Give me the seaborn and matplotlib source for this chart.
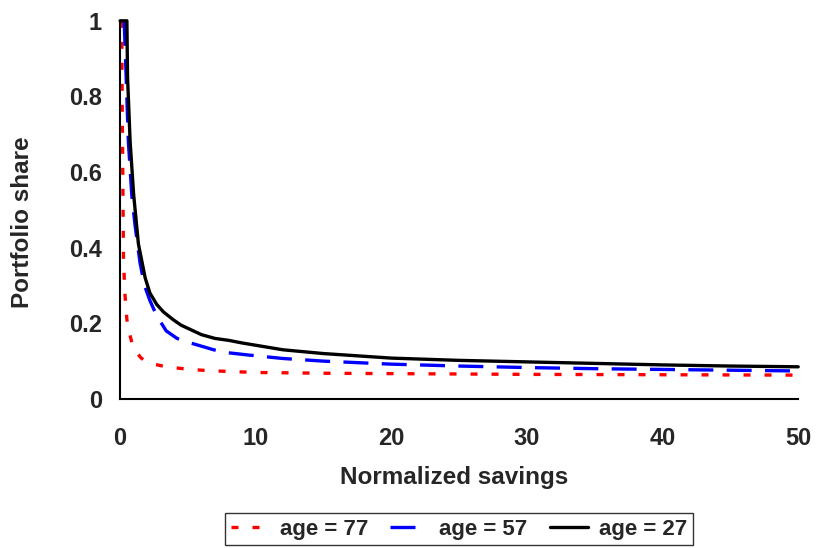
import matplotlib
matplotlib.use("Agg")
import matplotlib.pyplot as plt
import seaborn as sns
import pandas as pd

# Data
x_77 = [0.12, 0.15, 0.2, 0.25, 0.35, 0.5, 0.65, 0.86, 1.2, 1.5, 1.84, 2.5, 3.4, 4.9, 6.4, 10, 15, 20, 25, 30, 40, 50]
y_77 = [1.0, 0.8, 0.59, 0.37, 0.28, 0.21, 0.18, 0.15, 0.125, 0.11, 0.10, 0.092, 0.085, 0.079, 0.075, 0.07, 0.068, 0.067, 0.066, 0.065, 0.064, 0.063]

x_57 = [0.3, 0.4, 0.61, 0.86, 1.1, 1.47, 1.8, 2.2, 2.7, 3.4, 4.2, 5.2, 6.9, 8, 9.5, 12, 15, 20, 25, 30, 35, 40, 45, 50]
y_57 = [1.0, 0.9, 0.68, 0.54, 0.46, 0.36, 0.30, 0.26, 0.22, 0.18, 0.16, 0.148, 0.13, 0.122, 0.116, 0.107, 0.1, 0.092, 0.087, 0.083, 0.08, 0.078, 0.076, 0.074]

x_27 = [0.0, 0.5, 0.55, 0.74, 1.0, 1.35, 1.85, 2.2, 2.7, 3.2, 3.9, 4.5, 5.4, 6.0, 7.0, 8.0, 9.0, 12, 15, 20, 25, 30, 35, 40, 45, 50]
y_27 = [1.0, 1.0, 0.85, 0.68, 0.54, 0.41, 0.32, 0.28, 0.25, 0.23, 0.21, 0.195, 0.18, 0.17, 0.16, 0.155, 0.148, 0.13, 0.12, 0.108, 0.102, 0.098, 0.094, 0.09, 0.087, 0.085]

series_names = ["age = 77", "age = 57", "age = 27"]
x_ticks = [0, 10, 20, 30, 40, 50]
y_ticks = [0, 0.2, 0.4, 0.6, 0.8, 1]
y_tick_labels = ["0", "0.2", "0.4", "0.6", "0.8", "1"]

df = pd.concat([
    pd.DataFrame({"x": x_77, "y": y_77, "series": series_names[0]}),
    pd.DataFrame({"x": x_57, "y": y_57, "series": series_names[1]}),
    pd.DataFrame({"x": x_27, "y": y_27, "series": series_names[2]}),
], ignore_index=True)

sns.set_style("white")
plt.rcParams["font.family"] = ["Liberation Sans", "DejaVu Sans"]
plt.rcParams["font.weight"] = "bold"

fig = plt.figure(figsize=(8.17, 5.48), dpi=100)
ax = fig.add_axes([0.147, 0.272, 0.83, 0.690])

palette = {series_names[0]: "#ff0000", series_names[1]: "#0000ff", series_names[2]: "#000000"}
dashes = {series_names[0]: (2.1, 4.2), series_names[1]: (7.5, 4), series_names[2]: ""}

sns.lineplot(data=df, x="x", y="y", hue="series", style="series",
             palette=palette, dashes=dashes, linewidth=2.4, ax=ax,
             sort=False, estimator=None, legend=True)
for line in ax.get_lines():
    line.set_clip_on(False)
    line.set_dash_capstyle("butt")

ax.set_xlim(0, 50)
ax.set_ylim(0, 1)
ax.set_xticks(x_ticks)
ax.set_yticks(y_ticks)
ax.set_yticklabels(y_tick_labels)
ax.tick_params(axis="both", direction="out", length=6, width=1, color="#444444",
               labelsize=17, pad=7)
ax.tick_params(axis="x", pad=14)
for lab in ax.get_xticklabels() + ax.get_yticklabels():
    lab.set_fontweight("bold")

for s in ["top", "right"]:
    ax.spines[s].set_visible(False)
for s in ["left", "bottom"]:
    ax.spines[s].set_color("black")
    ax.spines[s].set_linewidth(1.5)

ax.set_xlabel("Normalized savings", fontsize=17.5, fontweight="bold", labelpad=12)
ax.set_ylabel("Portfolio share", fontsize=17.5, fontweight="bold", labelpad=25)
ax.yaxis.label.set_y(0.468)
ax.xaxis.label.set_x(0.493)

handles, labels = ax.get_legend_handles_labels()
leg = ax.legend(handles, labels, loc="center", bbox_to_anchor=(459 / 817, 1 - 529 / 548),
                bbox_transform=fig.transFigure, ncol=3, frameon=True, fancybox=False,
                edgecolor="black", fontsize=16, handlelength=1.7, columnspacing=1.0,
                borderpad=0.25, handletextpad=0.5, borderaxespad=0)
leg.get_frame().set_linewidth(1.0)
for t in leg.get_texts():
    t.set_fontweight("bold")

fig.savefig("out.png", dpi=100, facecolor="white")
